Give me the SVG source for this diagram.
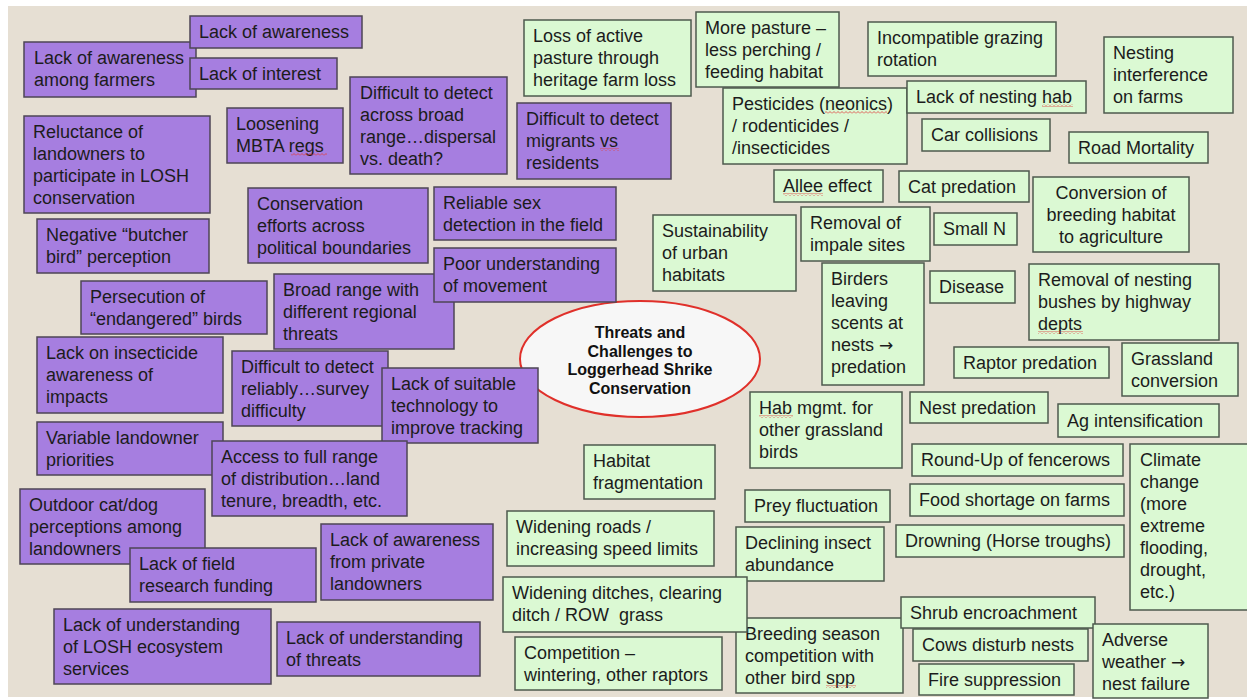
<svg xmlns="http://www.w3.org/2000/svg" width="1247" height="700" viewBox="0 0 1247 700">
<style>
.p{fill:#a67ee0;stroke:#4e4656;stroke-width:1.5}
.g{fill:#dbf9d3;stroke:#4e5a4e;stroke-width:1.5}
.t{font-family:"Liberation Sans",Arial,sans-serif;font-size:18px;fill:#1c1c1c}
.c{text-anchor:middle}
.ar{font-family:"DejaVu Sans",sans-serif;font-size:17px}
.h{font-family:"Liberation Sans",Arial,sans-serif;font-size:16px;font-weight:bold;fill:#111;text-anchor:middle}
.sq{fill:url(#sq)}
</style>
<defs>
<pattern id="sq" width="4" height="3" patternUnits="userSpaceOnUse"><path d="M0,2.5 L2,0.5 L4,2.5" fill="none" stroke="#e03a3a" stroke-width="0.8"/></pattern>
</defs>
<rect x="0" y="0" width="1247" height="700" fill="#ffffff"/>
<rect x="8" y="6" width="1239" height="691" fill="#e6dfd3"/>
<g id="connectors"/>
<g id="center">
<ellipse cx="640" cy="359" rx="120" ry="58" fill="#f7f7f7" stroke="#e0302a" stroke-width="2"/>
<text class="h"><tspan x="640" y="338">Threats and</tspan><tspan x="640" y="357">Challenges to</tspan><tspan x="640" y="375">Loggerhead Shrike</tspan><tspan x="640" y="394">Conservation</tspan></text>
</g>
<g id="p-awareness-farmers"><rect class="p" x="24" y="42" width="172" height="55"/><text class="t"><tspan x="34" y="64">Lack of awareness</tspan><tspan x="34" y="86">among farmers</tspan></text></g>
<g id="p-awareness"><rect class="p" x="190" y="16" width="172" height="32"/><text class="t" x="199" y="38">Lack of awareness</text></g>
<g id="p-interest"><rect class="p" x="190" y="58" width="147" height="31"/><text class="t" x="199" y="80">Lack of interest</text></g>
<g id="p-reluctance"><rect class="p" x="24" y="116" width="186" height="97"/><text class="t"><tspan x="33" y="138">Reluctance of</tspan><tspan x="33" y="160">landowners to</tspan><tspan x="33" y="182">participate in LOSH</tspan><tspan x="33" y="204">conservation</tspan></text></g>
<g id="p-mbta"><rect class="p" x="227" y="108" width="116" height="55"/><text class="t"><tspan x="236" y="130">Loosening</tspan><tspan x="236" y="152">MBTA regs</tspan></text><rect class="sq" x="291" y="153" width="36" height="3"/></g>
<g id="p-broad-detect"><rect class="p" x="350" y="77" width="157" height="97"/><text class="t"><tspan x="360" y="99">Difficult to detect</tspan><tspan x="360" y="121">across broad</tspan><tspan x="360" y="143">range…dispersal</tspan><tspan x="360" y="165">vs. death?</tspan></text></g>
<g id="p-conservation"><rect class="p" x="248" y="188" width="180" height="75"/><text class="t"><tspan x="257" y="210">Conservation</tspan><tspan x="257" y="232">efforts across</tspan><tspan x="257" y="254">political boundaries</tspan></text></g>
<g id="p-butcher"><rect class="p" x="37" y="219" width="172" height="54"/><text class="t"><tspan x="46" y="241">Negative “butcher</tspan><tspan x="46" y="263">bird” perception</tspan></text></g>
<g id="p-sex"><rect class="p" x="434" y="187" width="182" height="53"/><text class="t"><tspan x="443" y="209">Reliable sex</tspan><tspan x="443" y="231">detection in the field</tspan></text></g>
<g id="p-migrants"><rect class="p" x="517" y="103" width="154" height="76"/><text class="t"><tspan x="526" y="125">Difficult to detect</tspan><tspan x="526" y="147">migrants vs</tspan><tspan x="526" y="169">residents</tspan></text><rect class="sq" x="600" y="148" width="19" height="3"/></g>
<g id="p-persecution"><rect class="p" x="81" y="281" width="186" height="53"/><text class="t"><tspan x="90" y="303">Persecution of</tspan><tspan x="90" y="325">“endangered” birds</tspan></text></g>
<g id="p-broad-range"><rect class="p" x="274" y="274" width="180" height="75"/><text class="t"><tspan x="283" y="296">Broad range with</tspan><tspan x="283" y="318">different regional</tspan><tspan x="283" y="340">threats</tspan></text></g>
<g id="p-movement"><rect class="p" x="434" y="248" width="182" height="54"/><text class="t"><tspan x="443" y="270">Poor understanding</tspan><tspan x="443" y="292">of movement</tspan></text></g>
<g id="p-insecticide"><rect class="p" x="37" y="337" width="186" height="76"/><text class="t"><tspan x="46" y="359">Lack on insecticide</tspan><tspan x="46" y="381">awareness of</tspan><tspan x="46" y="403">impacts</tspan></text></g>
<g id="p-reliably"><rect class="p" x="232" y="351" width="156" height="75"/><text class="t"><tspan x="241" y="373">Difficult to detect</tspan><tspan x="241" y="395">reliably…survey</tspan><tspan x="241" y="417">difficulty</tspan></text></g>
<g id="p-technology"><rect class="p" x="382" y="368" width="156" height="75"/><text class="t"><tspan x="391" y="390">Lack of suitable</tspan><tspan x="391" y="412">technology to</tspan><tspan x="391" y="434">improve tracking</tspan></text></g>
<g id="p-priorities"><rect class="p" x="37" y="422" width="186" height="53"/><text class="t"><tspan x="46" y="444">Variable landowner</tspan><tspan x="46" y="466">priorities</tspan></text></g>
<g id="p-access"><rect class="p" x="212" y="441" width="195" height="75"/><text class="t"><tspan x="221" y="463">Access to full range</tspan><tspan x="221" y="485">of distribution…land</tspan><tspan x="221" y="507">tenure, breadth, etc.</tspan></text></g>
<g id="p-catdog"><rect class="p" x="20" y="489" width="185" height="75"/><text class="t"><tspan x="29" y="511">Outdoor cat/dog</tspan><tspan x="29" y="533">perceptions among</tspan><tspan x="29" y="555">landowners</tspan></text></g>
<g id="p-funding"><rect class="p" x="130" y="548" width="186" height="54"/><text class="t"><tspan x="139" y="570">Lack of field</tspan><tspan x="139" y="592">research funding</tspan></text></g>
<g id="p-private"><rect class="p" x="321" y="524" width="172" height="76"/><text class="t"><tspan x="330" y="546">Lack of awareness</tspan><tspan x="330" y="568">from private</tspan><tspan x="330" y="590">landowners</tspan></text></g>
<g id="p-ecosystem"><rect class="p" x="54" y="609" width="217" height="75"/><text class="t"><tspan x="63" y="631">Lack of understanding</tspan><tspan x="63" y="653">of LOSH ecosystem</tspan><tspan x="63" y="675">services</tspan></text></g>
<g id="p-threats"><rect class="p" x="277" y="622" width="203" height="54"/><text class="t"><tspan x="286" y="644">Lack of understanding</tspan><tspan x="286" y="666">of threats</tspan></text></g>

<g id="g-heritage"><rect class="g" x="524" y="20" width="167" height="76"/><text class="t"><tspan x="533" y="42">Loss of active</tspan><tspan x="533" y="64">pasture through</tspan><tspan x="533" y="86">heritage farm loss</tspan></text></g>
<g id="g-more-pasture"><rect class="g" x="696" y="12" width="143" height="75"/><text class="t"><tspan x="705" y="34">More pasture –</tspan><tspan x="705" y="56">less perching /</tspan><tspan x="705" y="78">feeding habitat</tspan></text></g>
<g id="g-grazing"><rect class="g" x="868" y="22" width="188" height="54"/><text class="t"><tspan x="877" y="44">Incompatible grazing</tspan><tspan x="877" y="66">rotation</tspan></text></g>
<g id="g-nesting-interference"><rect class="g" x="1104" y="37" width="129" height="76"/><text class="t"><tspan x="1113" y="59">Nesting</tspan><tspan x="1113" y="81">interference</tspan><tspan x="1113" y="103">on farms</tspan></text></g>
<g id="g-pesticides"><rect class="g" x="723" y="88" width="184" height="76"/><text class="t"><tspan x="732" y="110">Pesticides (neonics)</tspan><tspan x="732" y="132">/ rodenticides /</tspan><tspan x="732" y="154">/insecticides</tspan></text><rect class="sq" x="825" y="111" width="62" height="3"/></g>
<g id="g-nesting-hab"><rect class="g" x="907" y="81" width="179" height="32"/><text class="t" x="916" y="103">Lack of nesting hab</text><rect class="sq" x="1042" y="104" width="31" height="3"/></g>
<g id="g-car"><rect class="g" x="922" y="119" width="128" height="32"/><text class="t" x="931" y="141">Car collisions</text></g>
<g id="g-road"><rect class="g" x="1069" y="132" width="139" height="31"/><text class="t" x="1078" y="154">Road Mortality</text></g>
<g id="g-allee"><rect class="g" x="774" y="170" width="109" height="32"/><text class="t" x="783" y="192">Allee effect</text><rect class="sq" x="783" y="193" width="40" height="3"/></g>
<g id="g-cat"><rect class="g" x="899" y="171" width="130" height="31"/><text class="t" x="908" y="193">Cat predation</text></g>
<g id="g-conversion"><rect class="g" x="1033" y="177" width="156" height="75"/><text class="t c"><tspan x="1111" y="199">Conversion of</tspan><tspan x="1111" y="221">breeding habitat</tspan><tspan x="1111" y="243">to agriculture</tspan></text></g>
<g id="g-urban"><rect class="g" x="653" y="215" width="143" height="76"/><text class="t"><tspan x="662" y="237">Sustainability</tspan><tspan x="662" y="259">of urban</tspan><tspan x="662" y="281">habitats</tspan></text></g>
<g id="g-impale"><rect class="g" x="801" y="207" width="129" height="54"/><text class="t"><tspan x="810" y="229">Removal of</tspan><tspan x="810" y="251">impale sites</tspan></text></g>
<g id="g-small-n"><rect class="g" x="934" y="213" width="83" height="32"/><text class="t" x="943" y="235">Small N</text></g>
<g id="g-birders"><rect class="g" x="822" y="263" width="102" height="122"/><text class="t"><tspan x="831" y="285">Birders</tspan><tspan x="831" y="307">leaving</tspan><tspan x="831" y="329">scents at</tspan><tspan x="831" y="351">nests <tspan class="ar">→</tspan></tspan><tspan x="831" y="373">predation</tspan></text></g>
<g id="g-disease"><rect class="g" x="930" y="271" width="85" height="32"/><text class="t" x="939" y="293">Disease</text></g>
<g id="g-bushes"><rect class="g" x="1029" y="264" width="190" height="76"/><text class="t"><tspan x="1038" y="286">Removal of nesting</tspan><tspan x="1038" y="308">bushes by highway</tspan><tspan x="1038" y="330">depts</tspan></text><rect class="sq" x="1038" y="331" width="45" height="3"/></g>
<g id="g-raptor"><rect class="g" x="954" y="347" width="155" height="31"/><text class="t" x="963" y="369">Raptor predation</text></g>
<g id="g-grassland"><rect class="g" x="1122" y="343" width="116" height="53"/><text class="t"><tspan x="1131" y="365">Grassland</tspan><tspan x="1131" y="387">conversion</tspan></text></g>
<g id="g-hab-mgmt"><rect class="g" x="750" y="392" width="152" height="76"/><text class="t"><tspan x="759" y="414">Hab mgmt. for</tspan><tspan x="759" y="436">other grassland</tspan><tspan x="759" y="458">birds</tspan></text><rect class="sq" x="759" y="415" width="34" height="3"/></g>
<g id="g-nest-predation"><rect class="g" x="910" y="392" width="138" height="31"/><text class="t" x="919" y="414">Nest predation</text></g>
<g id="g-ag"><rect class="g" x="1058" y="404" width="161" height="33"/><text class="t" x="1067" y="427">Ag intensification</text></g>
<g id="g-fragmentation"><rect class="g" x="584" y="445" width="131" height="54"/><text class="t"><tspan x="593" y="467">Habitat</tspan><tspan x="593" y="489">fragmentation</tspan></text></g>
<g id="g-roundup"><rect class="g" x="912" y="444" width="211" height="32"/><text class="t" x="921" y="466">Round-Up of fencerows</text></g>
<g id="g-climate"><rect class="g" x="1130" y="444" width="125" height="166"/><text class="t"><tspan x="1140" y="466">Climate</tspan><tspan x="1140" y="488">change</tspan><tspan x="1140" y="510">(more</tspan><tspan x="1140" y="532">extreme</tspan><tspan x="1140" y="554">flooding,</tspan><tspan x="1140" y="576">drought,</tspan><tspan x="1140" y="598">etc.)</tspan></text></g>
<g id="g-prey"><rect class="g" x="745" y="490" width="145" height="32"/><text class="t" x="754" y="512">Prey fluctuation</text></g>
<g id="g-food"><rect class="g" x="910" y="484" width="214" height="32"/><text class="t" x="919" y="506">Food shortage on farms</text></g>
<g id="g-roads"><rect class="g" x="507" y="511" width="207" height="55"/><text class="t"><tspan x="516" y="533">Widening roads /</tspan><tspan x="516" y="555">increasing speed limits</tspan></text></g>
<g id="g-insect"><rect class="g" x="736" y="527" width="148" height="54"/><text class="t"><tspan x="745" y="549">Declining insect</tspan><tspan x="745" y="571">abundance</tspan></text></g>
<g id="g-drowning"><rect class="g" x="896" y="525" width="228" height="32"/><text class="t" x="905" y="547">Drowning (Horse troughs)</text></g>
<g id="g-breeding"><rect class="g" x="736" y="618" width="167" height="75"/><text class="t"><tspan x="745" y="640">Breeding season</tspan><tspan x="745" y="662">competition with</tspan><tspan x="745" y="684">other bird spp</tspan></text><rect class="sq" x="826" y="685" width="30" height="3"/></g>
<g id="g-ditches"><rect class="g" x="503" y="577" width="244" height="55"/><text class="t" xml:space="preserve"><tspan x="512" y="599">Widening ditches, clearing</tspan><tspan x="512" y="621">ditch / ROW  grass</tspan></text></g>
<g id="g-competition"><rect class="g" x="515" y="637" width="207" height="53"/><text class="t"><tspan x="524" y="659">Competition –</tspan><tspan x="524" y="681">wintering, other raptors</tspan></text></g>
<g id="g-shrub"><rect class="g" x="901" y="597" width="194" height="31"/><text class="t" x="910" y="619">Shrub encroachment</text></g>
<g id="g-cows"><rect class="g" x="913" y="629" width="175" height="32"/><text class="t" x="922" y="651">Cows disturb nests</text></g>
<g id="g-fire"><rect class="g" x="919" y="664" width="155" height="31"/><text class="t" x="928" y="686">Fire suppression</text></g>
<g id="g-adverse"><rect class="g" x="1093" y="624" width="115" height="74"/><text class="t"><tspan x="1102" y="646">Adverse</tspan><tspan x="1102" y="668">weather <tspan class="ar">→</tspan></tspan><tspan x="1102" y="690">nest failure</tspan></text></g>
</svg>
